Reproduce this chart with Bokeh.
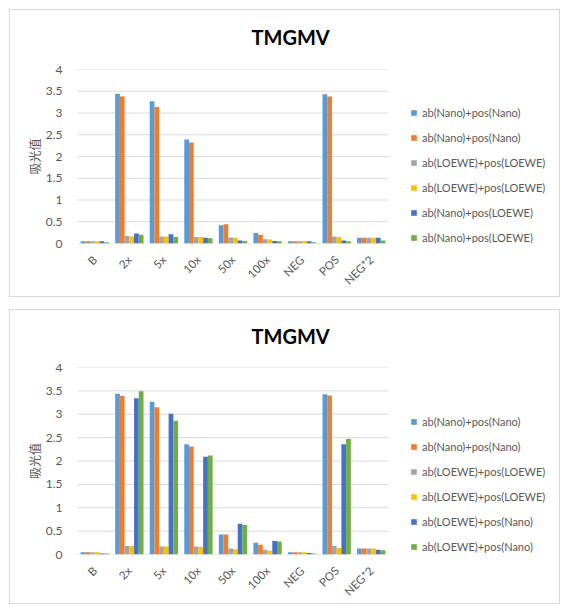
from bokeh.plotting import figure
from bokeh.models import (Legend, LegendItem, CustomJSTickFormatter, FixedTicker, Range1d, Title)
from bokeh.layouts import column
from bokeh.embed import file_html
from bokeh.resources import INLINE
from math import pi

categories = ["B", "2x", "5x", "10x", "50x", "100x", "NEG", "POS", "NEG*2"]
colors = ["#5B9BD5", "#ED7D31", "#A5A5A5", "#FFC000", "#4472C4", "#70AD47"]

top_labels = ["ab(Nano)+pos(Nano)", "ab(Nano)+pos(Nano)",
              "ab(LOEWE)+pos(LOEWE)", "ab(LOEWE)+pos(LOEWE)",
              "ab(Nano)+pos(LOEWE)", "ab(Nano)+pos(LOEWE)"]
top_s1 = [0.05, 3.44, 3.27, 2.39, 0.42, 0.24, 0.05, 3.43, 0.13]
top_s2 = [0.05, 3.38, 3.14, 2.32, 0.44, 0.20, 0.05, 3.38, 0.13]
top_s3 = [0.05, 0.17, 0.16, 0.15, 0.14, 0.10, 0.05, 0.16, 0.13]
top_s4 = [0.05, 0.16, 0.16, 0.15, 0.13, 0.09, 0.05, 0.15, 0.13]
top_s5 = [0.05, 0.23, 0.21, 0.13, 0.07, 0.06, 0.05, 0.07, 0.13]
top_s6 = [0.03, 0.20, 0.15, 0.12, 0.06, 0.05, 0.03, 0.05, 0.07]

bot_labels = ["ab(Nano)+pos(Nano)", "ab(Nano)+pos(Nano)",
              "ab(LOEWE)+pos(LOEWE)", "ab(LOEWE)+pos(LOEWE)",
              "ab(LOEWE)+pos(Nano)", "ab(LOEWE)+pos(Nano)"]
bot_s1 = [0.05, 3.44, 3.27, 2.36, 0.43, 0.25, 0.05, 3.43, 0.13]
bot_s2 = [0.05, 3.39, 3.15, 2.31, 0.43, 0.21, 0.05, 3.40, 0.13]
bot_s3 = [0.05, 0.18, 0.17, 0.17, 0.13, 0.10, 0.05, 0.18, 0.13]
bot_s4 = [0.05, 0.18, 0.17, 0.16, 0.11, 0.08, 0.05, 0.14, 0.13]
bot_s5 = [0.02, 3.34, 3.01, 2.09, 0.66, 0.29, 0.03, 2.36, 0.10]
bot_s6 = [0.02, 3.49, 2.86, 2.12, 0.63, 0.28, 0.02, 2.47, 0.09]

title_text = "TMGMV"
y_label = "吸光值"
y_ticks = [0, 0.5, 1, 1.5, 2, 2.5, 3, 3.5, 4]

FONT = "Lato"
CJK = "Noto Sans CJK SC"
GREY_TXT = "#595959"
GRID = "#d9d9d9"

PANEL_W = 551
LEFT = 67          # frame left (px in panel)
CAT_PX = 311 / 9   # px per category
RIGHT_PAD = 6


def make_panel(series, labels, height, frame_top, frame_bottom, legend_y,
               spacer_standoff, title_standoff):
    n_cat = len(categories)
    frame_w = PANEL_W - LEFT - RIGHT_PAD
    x_end = frame_w / CAT_PX
    p = figure(x_range=Range1d(0, x_end), y_range=Range1d(0, 4),
               width=PANEL_W, height=height,
               output_backend="svg", toolbar_location=None,
               min_border_left=LEFT, min_border_right=RIGHT_PAD,
               min_border_top=frame_top, min_border_bottom=height - frame_bottom,
               styles={"border": "1px solid #d9d9d9", "box-sizing": "border-box"})
    p.outline_line_color = None
    p.xgrid.grid_line_color = None
    p.ygrid.grid_line_color = None

    # horizontal gridlines across the category area only
    p.segment(x0=[0] * len(y_ticks), x1=[n_cat] * len(y_ticks),
              y0=y_ticks, y1=y_ticks, line_color=GRID, line_width=1)

    p.yaxis.ticker = FixedTicker(ticks=y_ticks)
    p.yaxis.formatter = CustomJSTickFormatter(code="return tick.toString();")
    p.yaxis.axis_line_color = None
    p.yaxis.major_tick_line_color = None
    p.yaxis.minor_tick_line_color = None
    p.yaxis.major_label_standoff = 9
    p.yaxis.major_label_text_font = FONT
    p.yaxis.major_label_text_font_size = "12px"
    p.yaxis.major_label_text_color = GREY_TXT
    p.yaxis.axis_label = y_label
    p.yaxis.axis_label_text_font = CJK
    p.yaxis.axis_label_text_font_size = "12px"
    p.yaxis.axis_label_text_font_style = "normal"
    p.yaxis.axis_label_text_color = GREY_TXT
    p.yaxis.axis_label_standoff = 0

    p.xaxis.ticker = FixedTicker(ticks=[k + 0.5 for k in range(n_cat)])
    p.xaxis.formatter = CustomJSTickFormatter(
        args={"cats": categories},
        code="const i = Math.floor(tick); return (i >= 0 && i < cats.length) ? cats[i] : '';")
    p.xaxis.axis_line_color = None
    p.xaxis.major_tick_line_color = None
    p.xaxis.minor_tick_line_color = None
    p.xaxis.major_label_orientation = pi / 4
    p.xaxis.major_label_text_font = FONT
    p.xaxis.major_label_text_font_size = "11.5px"
    p.xaxis.major_label_text_color = GREY_TXT
    p.xaxis.major_label_standoff = 8

    # visible title, with a thin spacer title (added later, so nearer the frame)
    p.title.text = title_text
    p.title.align = "left"
    p.title.offset = 174
    p.title.text_font = FONT
    p.title.text_font_size = "20px"
    p.title.text_font_style = "bold"
    p.title.text_color = "#000000"
    p.title.standoff = title_standoff
    p.add_layout(Title(text=" ", text_font_size="1px", standoff=spacer_standoff), "above")

    n = len(series)
    bw = 0.82 / n
    items = []
    for i, (vals, lab, col) in enumerate(zip(series, labels, colors)):
        xs = [k + 0.5 + (i - (n - 1) / 2) * bw for k in range(n_cat)]
        r = p.vbar(x=xs, top=vals, width=bw, fill_color=col, line_color=None)
        items.append(LegendItem(label=lab, renderers=[r]))

    legend = Legend(items=items, location=(333, legend_y),
                    glyph_width=7, glyph_height=7, label_height=12,
                    spacing=12, padding=0, margin=0, label_standoff=5,
                    label_text_font=FONT, label_text_font_size="11px",
                    label_text_color=GREY_TXT,
                    border_line_color=None, background_fill_alpha=0)
    p.add_layout(legend, "center")
    return p


p1 = make_panel([top_s1, top_s2, top_s3, top_s4, top_s5, top_s6], top_labels,
                288, 59, 233, -1, 7, 22)
p2 = make_panel([bot_s1, bot_s2, bot_s3, bot_s4, bot_s5, bot_s6], bot_labels,
                295, 57, 244, 1, 7, 20)

layout = column(p1, p2, spacing=12, margin=(9, 0, 0, 9))
open("out.html", "w").write(file_html(layout, INLINE))
